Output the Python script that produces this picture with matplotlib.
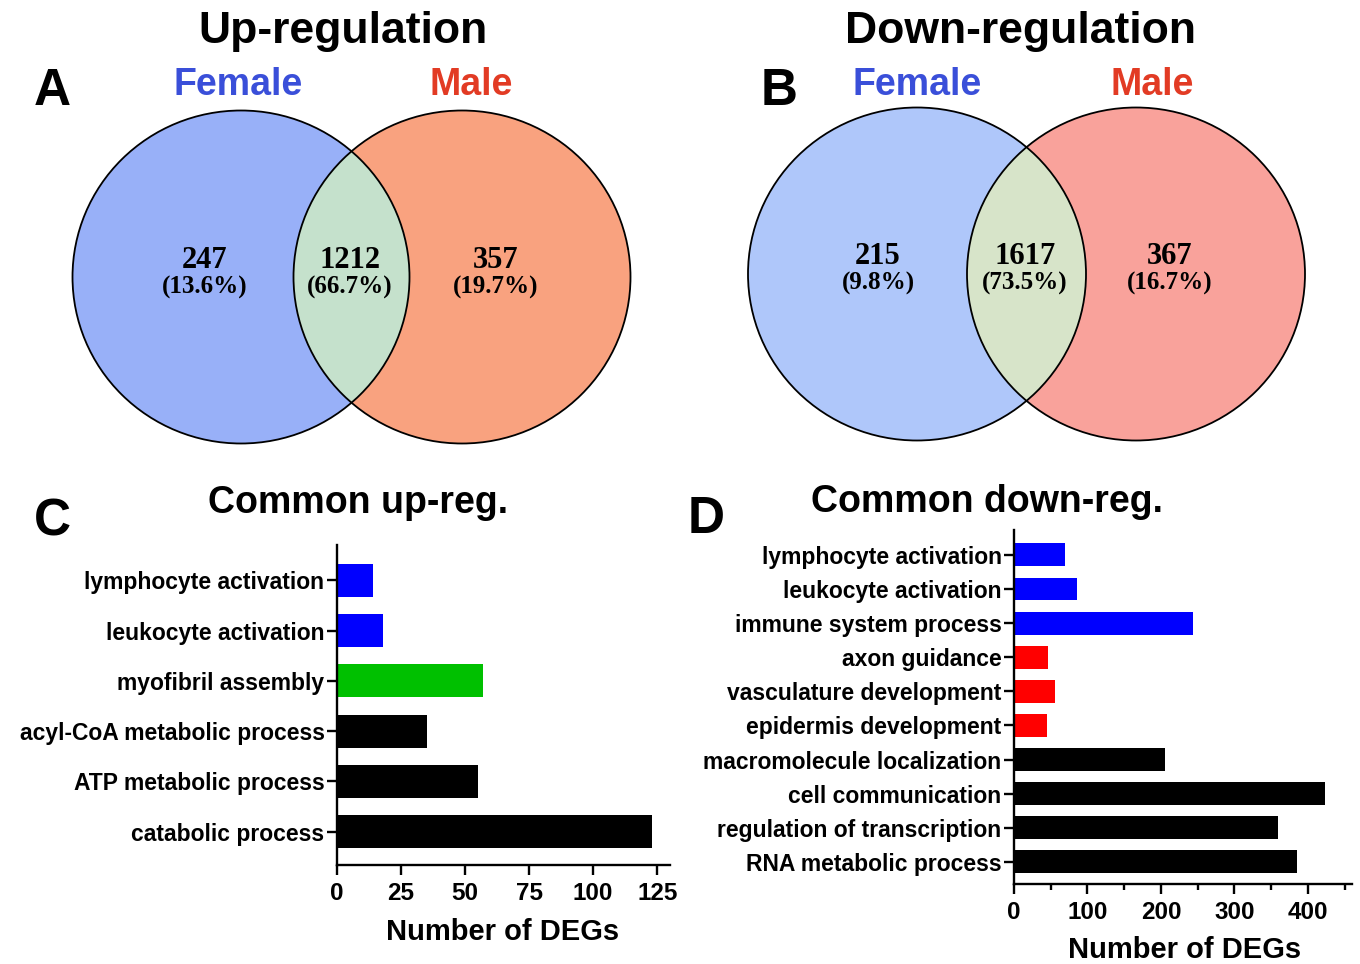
import numpy as np
import matplotlib
matplotlib.use("Agg")
import matplotlib.pyplot as plt
from matplotlib.patches import Ellipse

plt.rcParams['font.family'] = ['Liberation Sans', 'DejaVu Sans']

# ---------------- data ----------------
venn_up_counts = ["247", "1212", "357"]
venn_up_pcts = ["(13.6%)", "(66.7%)", "(19.7%)"]
venn_down_counts = ["215", "1617", "367"]
venn_down_pcts = ["(9.8%)", "(73.5%)", "(16.7%)"]
set_names = ["Female", "Male"]

up_terms = ["lymphocyte activation", "leukocyte activation", "myofibril assembly",
            "acyl-CoA metabolic process", "ATP metabolic process", "catabolic process"]
up_values = [14, 18, 57, 35, 55, 123]
up_colors = ["#0000FF", "#0000FF", "#00C000", "#000000", "#000000", "#000000"]

down_terms = ["lymphocyte activation", "leukocyte activation", "immune system process",
              "axon guidance", "vasculature development", "epidermis development",
              "macromolecule localization", "cell communication",
              "regulation of transcription", "RNA metabolic process"]
down_values = [69, 86, 243, 46, 56, 45, 205, 423, 359, 385]
down_colors = ["#0000FF"] * 3 + ["#FF0000"] * 3 + ["#000000"] * 4

W, H = 1360, 964
fig = plt.figure(figsize=(W / 100, H / 100), dpi=100)

# full-figure overlay axes in pixel coordinates
ov = fig.add_axes([0, 0, 1, 1])
ov.set_xlim(0, W)
ov.set_ylim(H, 0)
ov.axis("off")

serif = ['Liberation Serif', 'DejaVu Serif']


def venn(cx_l, cx_r, cy, w, h, c_left, c_right, c_mid, counts, pcts, lab_x, num_y, pct_y):
    e1 = Ellipse((cx_l, cy), w, h, facecolor=c_left, edgecolor='none', zorder=1)
    e2 = Ellipse((cx_r, cy), w, h, facecolor=c_right, edgecolor='none', zorder=1)
    ov.add_patch(e1)
    ov.add_patch(e2)
    clip = Ellipse((cx_l, cy), w, h, transform=ov.transData)
    e3 = Ellipse((cx_r, cy), w, h, facecolor=c_mid, edgecolor='none', zorder=2)
    ov.add_patch(e3)
    e3.set_clip_path(clip)
    for cx in (cx_l, cx_r):
        ov.add_patch(Ellipse((cx, cy), w, h, facecolor='none', edgecolor='black',
                             lw=1.3, zorder=3))
    for x, c, p in zip(lab_x, counts, pcts):
        ov.text(x, num_y, c, ha='center', va='center', fontsize=22, fontweight='bold',
                family=serif, zorder=4)
        ov.text(x, pct_y, p, ha='center', va='center', fontsize=18, fontweight='bold',
                family=serif, zorder=4)


venn(241, 462, 277, 337, 333, "#98B0F8", "#F9A27F", "#C5E1CC",
     venn_up_counts, venn_up_pcts, [205, 350, 496], 261, 287)
venn(917, 1136, 274, 338, 333, "#AFC7FA", "#F9A29B", "#D7E4C9",
     venn_down_counts, venn_down_pcts, [878, 1025, 1170], 257, 283)

# headings
ov.text(343, 43, "Up-regulation", ha='center', va='baseline', fontsize=32, fontweight='bold')
ov.text(1020, 43, "Down-regulation", ha='center', va='baseline', fontsize=32, fontweight='bold')
ov.text(52, 105, "A", ha='center', va='baseline', fontsize=37, fontweight='bold')
ov.text(779, 105, "B", ha='center', va='baseline', fontsize=37, fontweight='bold')
for (xf, xm) in [(238, 471), (917, 1152)]:
    ov.text(xf, 95, set_names[0], ha='center', va='baseline', fontsize=27,
            fontweight='bold', color='#3A4FD9')
    ov.text(xm, 95, set_names[1], ha='center', va='baseline', fontsize=27,
            fontweight='bold', color='#E23B24')

ov.text(52, 535, "C", ha='center', va='baseline', fontsize=37, fontweight='bold')
ov.text(706, 533, "D", ha='center', va='baseline', fontsize=37, fontweight='bold')
ov.text(358, 513, "Common up-reg.", ha='center', va='baseline', fontsize=27, fontweight='bold')
ov.text(987, 512, "Common down-reg.", ha='center', va='baseline', fontsize=27, fontweight='bold')


def px_axes(left, right, top, bottom):
    return fig.add_axes([left / W, (H - bottom) / H, (right - left) / W, (bottom - top) / H])


def style(ax):
    for s in ('top', 'right'):
        ax.spines[s].set_visible(False)
    for s in ('left', 'bottom'):
        ax.spines[s].set_linewidth(1.7)
    ax.tick_params(axis='both', width=1.7, length=7, direction='out')
    ax.tick_params(axis='y', pad=2)
    ax.tick_params(axis='x', pad=5)
    ax.set_facecolor('none')


# ---- panel C ----
axC = px_axes(337, 670, 545, 865)
n = len(up_terms)
yC = np.arange(n)[::-1]
axC.barh(yC, up_values, height=0.66, color=up_colors, edgecolor='none')
axC.set_yticks(yC)
axC.set_yticklabels(up_terms, fontsize=16.5, fontweight='bold')
axC.set_xlim(0, 130)
axC.set_ylim(-0.66, n - 1 + 0.7)
axC.set_xticks([0, 25, 50, 75, 100, 125])
axC.set_xticklabels(["0", "25", "50", "75", "100", "125"], fontsize=17.5, fontweight='bold')
style(axC)
ov.text(503, 940, "Number of DEGs", ha='center', va='baseline', fontsize=21, fontweight='bold')

# ---- panel D ----
axD = px_axes(1014, 1352, 530, 884)
m = len(down_terms)
yD = np.arange(m)[::-1]
axD.barh(yD, down_values, height=0.67, color=down_colors, edgecolor='none')
axD.set_yticks(yD)
axD.set_yticklabels(down_terms, fontsize=16.5, fontweight='bold')
axD.set_xlim(0, 460)
axD.set_ylim(-0.65, m - 1 + 0.73)
axD.set_xticks([0, 100, 200, 300, 400])
axD.set_xticks([50, 150, 250, 350, 450], minor=True)
axD.set_xticklabels(["0", "100", "200", "300", "400"], fontsize=17.5, fontweight='bold')
style(axD)
axD.tick_params(axis='x', which='minor', width=1.7, length=4)
ov.text(1185, 958, "Number of DEGs", ha='center', va='baseline', fontsize=21, fontweight='bold')

fig.savefig("out.png", dpi=100)
